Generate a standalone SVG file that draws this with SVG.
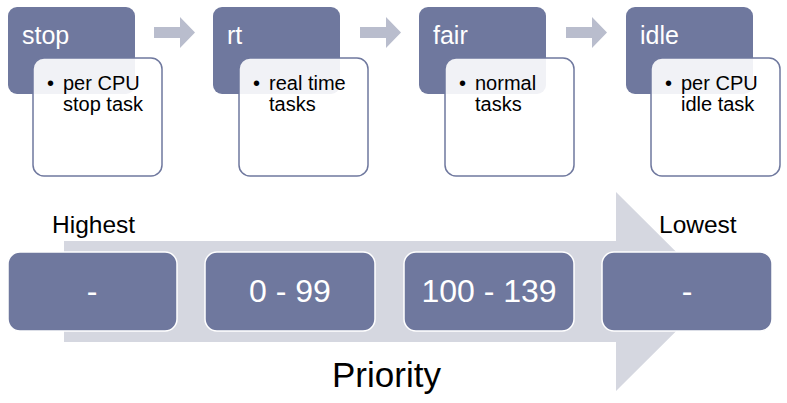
<svg xmlns="http://www.w3.org/2000/svg" width="787" height="403" viewBox="0 0 787 403">
<style>
text{font-family:"Liberation Sans",Arial,sans-serif}
.dark{fill:#6f789e}
.card{fill:#ffffff;fill-opacity:0.9;stroke:#6f789e;stroke-width:1.5}
.title{fill:#ffffff;font-size:25px}
.item{fill:#000000;font-size:20px}
.step{fill:#b9bdcd}
.band{fill:#d5d7e0}
.pbox{fill:#6f789e;stroke:#ffffff;stroke-width:1.5}
.pval{fill:#ffffff;font-size:32px;text-anchor:middle}
.lbl{fill:#000000;font-size:24.5px}
</style>
<rect width="787" height="403" fill="#ffffff"/>
<g id="connectors">
<path class="step" d="M154 27H180V17L195 32.5L180 48V38H154Z"/>
<path class="step" d="M360 27H386V17L401 32.5L386 48V38H360Z"/>
<path class="step" d="M566 27H592V17L607 32.5L592 48V38H566Z"/>
</g>
<g id="priority-arrow">
<path class="band" d="M64 241H616V192L716 291.5L616 391V342H64Z"/>
</g>
<g id="stop">
<rect class="dark" x="8" y="7" width="127" height="87" rx="9"/>
<text class="title" x="22" y="44">stop</text>
<rect class="card" x="33" y="58" width="129" height="118" rx="11"/>
<text class="item" x="47" y="90">•</text>
<text class="item" x="63" y="90">per CPU</text>
<text class="item" x="63" y="111">stop task</text>
</g>
<g id="rt">
<rect class="dark" x="213" y="7" width="127" height="87" rx="9"/>
<text class="title" x="227" y="44">rt</text>
<rect class="card" x="239" y="58" width="129" height="118" rx="11"/>
<text class="item" x="253" y="90">•</text>
<text class="item" x="269" y="90">real time</text>
<text class="item" x="269" y="111">tasks</text>
</g>
<g id="fair">
<rect class="dark" x="419" y="7" width="127" height="87" rx="9"/>
<text class="title" x="433" y="44">fair</text>
<rect class="card" x="445" y="58" width="129" height="118" rx="11"/>
<text class="item" x="459" y="90">•</text>
<text class="item" x="475" y="90">normal</text>
<text class="item" x="475" y="111">tasks</text>
</g>
<g id="idle">
<rect class="dark" x="626" y="7" width="127" height="87" rx="9"/>
<text class="title" x="640" y="44">idle</text>
<rect class="card" x="651" y="58" width="129" height="118" rx="11"/>
<text class="item" x="665" y="90">•</text>
<text class="item" x="681" y="90">per CPU</text>
<text class="item" x="681" y="111">idle task</text>
</g>
<g id="prio-stop">
<rect class="pbox" x="8" y="252" width="169" height="79" rx="12"/>
<text class="pval" x="92" y="302">-</text>
</g>
<g id="prio-rt">
<rect class="pbox" x="205" y="252" width="170" height="79" rx="12"/>
<text class="pval" x="290" y="302">0 - 99</text>
</g>
<g id="prio-fair">
<rect class="pbox" x="404" y="252" width="170" height="79" rx="12"/>
<text class="pval" x="489" y="302">100 - 139</text>
</g>
<g id="prio-idle">
<rect class="pbox" x="602" y="252" width="170" height="79" rx="12"/>
<text class="pval" x="687" y="302">-</text>
</g>
<g id="labels">
<text class="lbl" x="52" y="233">Highest</text>
<text class="lbl" x="659" y="233">Lowest</text>
<text x="332" y="387" font-size="35" fill="#000000">Priority</text>
</g>
</svg>
